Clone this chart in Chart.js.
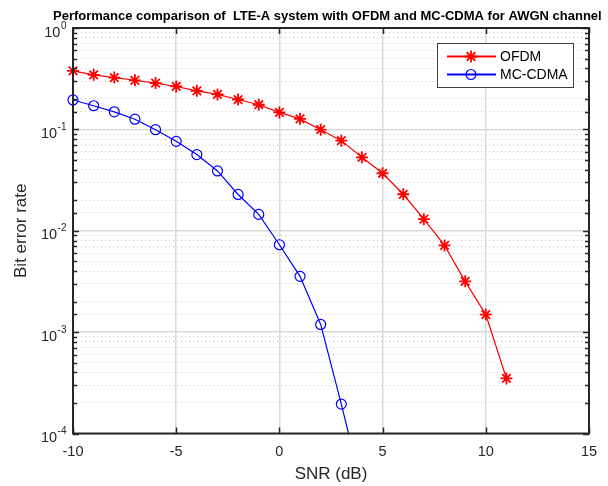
<!DOCTYPE html>
<html>
<head>
<meta charset="utf-8">
<script src="https://cdn.jsdelivr.net/npm/chart.js@4/dist/chart.umd.min.js"></script>
<style>
  html, body { margin: 0; padding: 0; background: #fff; }
  #wrap { width: 608px; height: 486px; }
</style>
</head>
<body>
<div id="wrap"><canvas id="ber" width="608" height="486"></canvas></div>
<script>
const titleText = "Performance comparison of  LTE-A system with OFDM and MC-CDMA for AWGN channel";
const xTicks = [-10, -5, 0, 5, 10, 15];
const yDecades = [0, -1, -2, -3, -4];

const snrOfdm = [-10, -9, -8, -7, -6, -5, -4, -3, -2, -1, 0, 1, 2, 3, 4, 5, 6, 7, 8, 9, 10, 11];
const berOfdm = [0.378, 0.345, 0.324, 0.305, 0.286, 0.265, 0.240, 0.221, 0.197, 0.175, 0.147,
  0.127, 0.0993, 0.0774, 0.053, 0.0369, 0.0229, 0.0130, 0.00716, 0.00317, 0.00149, 0.000349];

const snrMc = [-10, -9, -8, -7, -6, -5, -4, -3, -2, -1, 0, 1, 2, 3, 4];
const berMc = [0.195, 0.171, 0.149, 0.126, 0.0993, 0.0762, 0.0564, 0.0389, 0.0228, 0.0145,
  0.00728, 0.00355, 0.00119, 0.000195, 0.000029];

const FONT = "'Liberation Sans', Arial, Helvetica, sans-serif";
const AXIS = "#262626";

function isDecade(v) {
  const l = Math.log10(v);
  return Math.abs(l - Math.round(l)) < 1e-6;
}

// MATLAB-like box, inward ticks, title, y labels with exponents and the legend
const matlabLook = {
  id: "matlabLook",
  afterDatasetsDraw(chart) {
    const { ctx, chartArea: a, scales } = chart;
    const xs = scales.x, ys = scales.y;
    ctx.save();
    ctx.strokeStyle = AXIS;
    ctx.lineWidth = 1.5;
    ctx.beginPath();
    xTicks.forEach(t => {
      const px = Math.round(xs.getPixelForValue(t)) + 0.5;
      ctx.moveTo(px, a.bottom); ctx.lineTo(px, a.bottom - 6);
      ctx.moveTo(px, a.top); ctx.lineTo(px, a.top + 6);
    });
    ys.ticks.forEach(t => {
      const py = Math.round(ys.getPixelForValue(t.value)) + 0.5;
      const len = isDecade(t.value) ? 6 : 4;
      ctx.moveTo(a.left, py); ctx.lineTo(a.left + len, py);
      ctx.moveTo(a.right, py); ctx.lineTo(a.right - len, py);
    });
    ctx.stroke();
    ctx.lineWidth = 2;
    ctx.strokeRect(a.left, a.top, a.right - a.left, a.bottom - a.top);

    // y tick labels 10^n
    ctx.fillStyle = AXIS;
    ctx.textBaseline = "alphabetic";
    ctx.textAlign = "left";
    yDecades.forEach(d => {
      const py = ys.getPixelForValue(Math.pow(10, d));
      const exp = String(d);
      ctx.font = "10px " + FONT;
      const ew = ctx.measureText(exp).width;
      ctx.font = "14.5px " + FONT;
      const tw = ctx.measureText("10").width;
      const ex = 66.5 - ew;
      ctx.fillText("10", ex - tw - 0.5, py + 8.5);
      ctx.font = "10px " + FONT;
      ctx.fillText(exp, ex, py + 0.5);
    });

    // title
    ctx.fillStyle = "#000";
    ctx.font = "bold 13px " + FONT;
    ctx.textBaseline = "middle";
    ctx.fillText(titleText, 53, 16);

    // legend
    const lx = 437.5, ly = 43.5, lw = 136, lh = 44;
    ctx.fillStyle = "#fff";
    ctx.fillRect(lx, ly, lw, lh);
    ctx.strokeStyle = "#404040";
    ctx.lineWidth = 1;
    ctx.strokeRect(lx, ly, lw, lh);
    chart.data.datasets.forEach((ds, i) => {
      const ry = Math.round(i === 0 ? 55.7 : 74.3) + 0.5;
      ctx.strokeStyle = ds.borderColor;
      ctx.lineWidth = 2;
      ctx.beginPath();
      ctx.moveTo(447, ry); ctx.lineTo(496, ry);
      ctx.stroke();
      ctx.fillStyle = "rgba(0,0,0,0)";
      ctx.lineWidth = ds.pointBorderWidth;
      Chart.helpers.drawPoint(ctx, {
        pointStyle: ds.pointStyle, radius: ds.pointRadius, borderWidth: ds.pointBorderWidth,
        rotation: 0
      }, 471, ry);
      ctx.fillStyle = "#000";
      ctx.font = "14px " + FONT;
      ctx.textBaseline = "middle";
      ctx.fillText(ds.label, 500, ry + 1);
    });
    ctx.restore();
  }
};

new Chart(document.getElementById("ber"), {
  type: "line",
  data: {
    datasets: [
      {
        label: "OFDM",
        data: snrOfdm.map((x, i) => ({ x: x, y: berOfdm[i] })),
        borderColor: "#ff0000",
        backgroundColor: "#ff0000",
        borderWidth: 1.2,
        pointStyle: "star",
        pointRadius: 6,
        pointBorderWidth: 1.8,
        pointBorderColor: "#ff0000",
        clip: { left: false, top: false, right: false, bottom: 1 }
      },
      {
        label: "MC-CDMA",
        data: snrMc.map((x, i) => ({ x: x, y: berMc[i] })),
        borderColor: "#0000ff",
        backgroundColor: "rgba(0,0,0,0)",
        borderWidth: 1.2,
        pointStyle: "circle",
        pointRadius: 5,
        pointBorderWidth: 1.2,
        pointBorderColor: "#0000ff",
        pointBackgroundColor: "rgba(0,0,0,0)",
        clip: { left: false, top: false, right: false, bottom: 1 }
      }
    ]
  },
  options: {
    responsive: false,
    animation: false,
    layout: { padding: { left: 0, right: 19, top: 28, bottom: 0 } },
    plugins: {
      legend: { display: false },
      title: { display: false },
      tooltip: { enabled: false }
    },
    scales: {
      x: {
        type: "linear",
        min: -10,
        max: 15,
        afterBuildTicks: s => { s.ticks = xTicks.map(v => ({ value: v })); },
        afterFit: s => { s.height = 52.5; },
        ticks: { color: AXIS, font: { family: FONT, size: 14.5 }, padding: 10, maxRotation: 0 },
        grid: { color: "#dadada", lineWidth: 1.5, drawTicks: false },
        border: { display: false },
        title: {
          display: true, text: "SNR (dB)", color: AXIS,
          font: { family: FONT, size: 17 }, padding: { top: 0, bottom: 1 }
        }
      },
      y: {
        type: "logarithmic",
        min: 1e-4,
        max: 1,
        afterFit: s => { s.width = 73; },
        ticks: { display: false, autoSkip: false },
        grid: {
          drawTicks: false,
          color: c => (c.tick && isDecade(c.tick.value)) ? "#dadada" : "#c8c8c8",
          lineWidth: c => (c.tick && isDecade(c.tick.value)) ? 1.5 : 1
        },
        border: {
          display: false,
          dash: c => (c.tick && !isDecade(c.tick.value)) ? [1, 3] : []
        },
        title: {
          display: true, text: "Bit error rate", color: AXIS,
          font: { family: FONT, size: 17 }, padding: { top: 11, bottom: 0 }
        }
      }
    }
  },
  plugins: [matlabLook]
});
</script>
</body>
</html>
